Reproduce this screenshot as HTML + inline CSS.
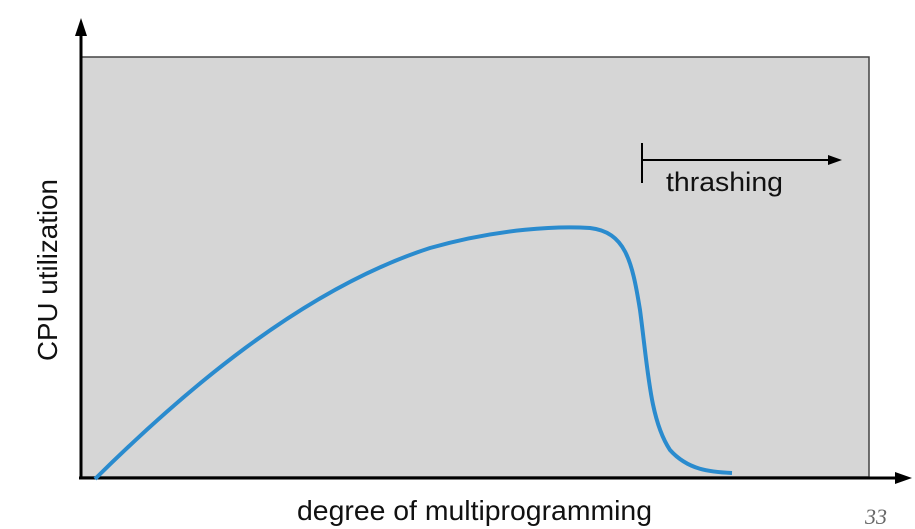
<!DOCTYPE html>
<html><head><style>body{margin:0;background:#fff}svg{display:block}</style></head>
<body>
<svg width="915" height="529" xmlns="http://www.w3.org/2000/svg">
<rect x="81" y="57" width="788" height="420" fill="#d6d6d6" stroke="#444" stroke-width="1.5"/>
<line x1="81" y1="478" x2="81" y2="30" stroke="#000" stroke-width="3"/>
<polygon points="81,18 75,36 87,36" fill="#000"/>
<line x1="79" y1="478" x2="900" y2="478" stroke="#000" stroke-width="3"/>
<polygon points="912,478 895,472 895,484" fill="#000"/>
<path d="M95,479 C180,395 300,290 430,248 C500,228 560,226 590,228 C625,232 632,260 640,310 C648,370 650,420 670,450 C688,470 710,472 732,473" fill="none" stroke="#2a8bce" stroke-width="4"/>
<line x1="642" y1="143" x2="642" y2="183" stroke="#000" stroke-width="2"/>
<line x1="642" y1="160" x2="830" y2="160" stroke="#000" stroke-width="2"/>
<polygon points="842,160 828,155 828,165" fill="#000"/>
<text x="666" y="191" font-family="Liberation Sans, sans-serif" font-size="27" fill="#111" textLength="117" lengthAdjust="spacingAndGlyphs">thrashing</text>
<text x="297" y="520" font-family="Liberation Sans, sans-serif" font-size="28" fill="#111" textLength="355" lengthAdjust="spacingAndGlyphs">degree of multiprogramming</text>
<text transform="translate(57,270) rotate(-90)" text-anchor="middle" font-family="Liberation Sans, sans-serif" font-size="28" fill="#111" textLength="182" lengthAdjust="spacingAndGlyphs">CPU utilization</text>
<text x="876" y="524" text-anchor="middle" font-family="Liberation Serif, serif" font-style="italic" font-size="22" fill="#666">33</text>
</svg>
</body></html>
